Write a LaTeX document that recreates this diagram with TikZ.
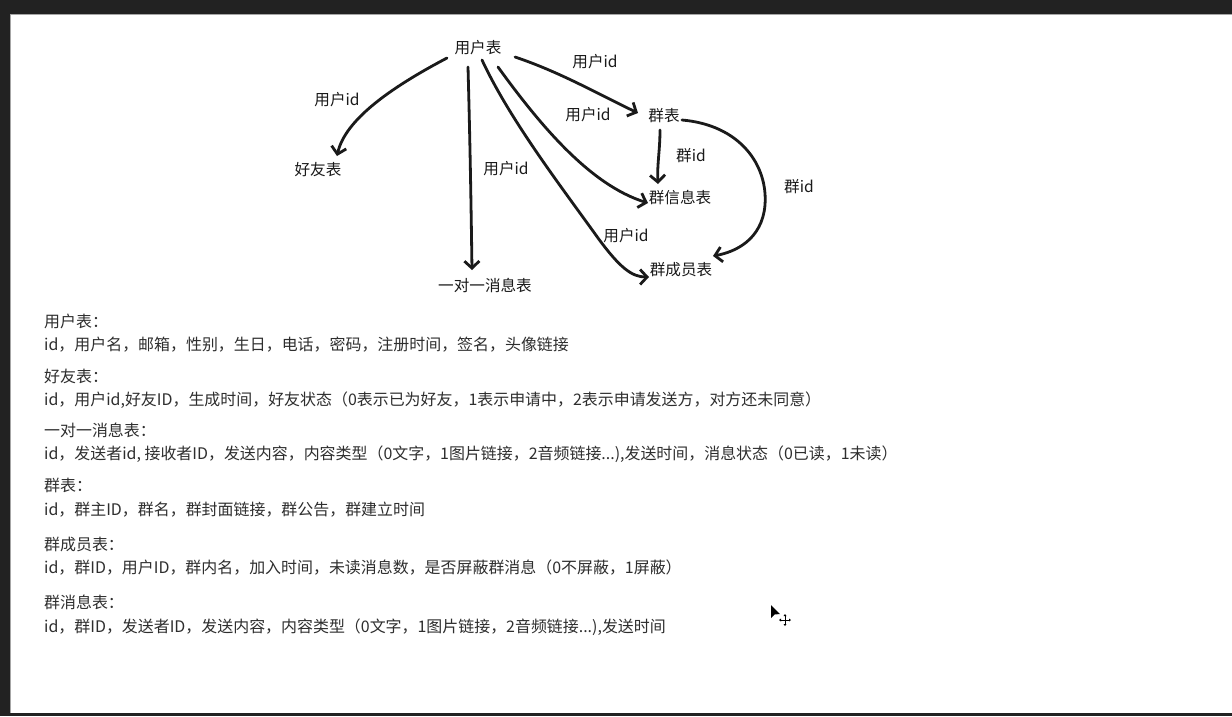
\documentclass[tikz,border=0pt]{standalone}
\usepackage{fontspec}
\setmainfont{Noto Sans CJK SC}
\usetikzlibrary{arrows.meta}
\definecolor{frame}{HTML}{222222}
\definecolor{ink}{HTML}{1A1A1A}
\definecolor{bodyink}{HTML}{2E2E2E}
\begin{document}
\begin{tikzpicture}[x=1pt,y=-1pt,
  lbl/.style={font=\fontsize{15.6}{18}\selectfont, text=ink, inner sep=0pt},
  bodytxt/.style={font=\fontsize{15.95}{19}\selectfont, text=bodyink, inner sep=0pt, anchor=west},
  link/.style={line width=2.8pt, line cap=round, line join=round, draw=ink,
    -{Straight Barb[length=7pt,width=15pt]}}]
\useasboundingbox (0,0) rectangle (1232,716);
\fill[frame] (0,0) rectangle (1232,716);
\fill[white] (10,14) rectangle (1232,713);
\draw[gray!70, line width=1pt] (10,713) -- (10,14) -- (1232,14);

% table nodes
\node[lbl] (user) at (478,48) {用户表};
\node[lbl] (friend) at (318,170) {好友表};
\node[lbl] (p2p) at (485,285) {一对一消息表};
\node[lbl] (group) at (664,116) {群表};
\node[lbl] (ginfo) at (680,198) {群信息表};
\node[lbl] (gmem) at (681,270) {群成员表};

% connector end points
\coordinate (s1) at (447,58);  \coordinate (e1) at (337,156);
\coordinate (s2) at (468,67);  \coordinate (e2) at (472,270);
\coordinate (s3) at (482,60);  \coordinate (m3) at (598,238); \coordinate (e3) at (649,277);
\coordinate (s4) at (498,67);  \coordinate (e4) at (648,203);
\coordinate (s5) at (515,57);  \coordinate (e5) at (638,113);
\coordinate (s6) at (660,130); \coordinate (e6) at (658,184);
\coordinate (s7) at (682,120); \coordinate (m7) at (765,205); \coordinate (e7) at (713,256);

\draw[link] (s1) .. controls (390,88) and (345,120) .. (e1);
\draw[link] (s2) .. controls (470,140) and (471,200) .. (e2);
\draw[link] (s3) .. controls (510,120) and (560,185) .. (m3) .. controls (620,268) and (632,277) .. (e3);
\draw[link] (s4) .. controls (540,125) and (590,185) .. (e4);
\draw[link] (s5) .. controls (560,72) and (600,95) .. (e5);
\draw[link] (s6) .. controls (660,150) and (657,165) .. (e6);
\draw[link] (s7) .. controls (740,125) and (768,165) .. (m7) .. controls (762,240) and (735,252) .. (e7);

% connector labels
\node[lbl] (l1) at (337,100) {用户id};
\node[lbl] (l2) at (506,169) {用户id};
\node[lbl] (l3) at (626,236) {用户id};
\node[lbl] (l4) at (588,115) {用户id};
\node[lbl] (l5) at (595,62) {用户id};
\node[lbl] (l6) at (691,156) {群id};
\node[lbl] (l7) at (799,187) {群id};

% field lists
\node[bodytxt] (h1) at (44,321) {用户表：};
\node[bodytxt] (t1) at (44,345) {id，用户名，邮箱，性别，生日，电话，密码，注册时间，签名，头像链接};
\node[bodytxt] (h2) at (44,376) {好友表：};
\node[bodytxt] (t2) at (44,400) {id，用户id,好友ID，生成时间，好友状态（0表示已为好友，1表示申请中，2表示申请发送方，对方还未同意）};
\node[bodytxt] (h3) at (44,430) {一对一消息表：};
\node[bodytxt] (t3) at (44,454) {id，发送者id, 接收者ID，发送内容，内容类型（0文字，1图片链接，2音频链接...),发送时间，消息状态（0已读，1未读）};
\node[bodytxt] (h4) at (44,485) {群表：};
\node[bodytxt] (t4) at (44,510) {id，群主ID，群名，群封面链接，群公告，群建立时间};
\node[bodytxt] (h5) at (44,544) {群成员表：};
\node[bodytxt] (t5) at (44,568) {id，群ID，用户ID，群内名，加入时间，未读消息数，是否屏蔽群消息（0不屏蔽，1屏蔽）};
\node[bodytxt] (h6) at (44,602) {群消息表：};
\node[bodytxt] (t6) at (44,627) {id，群ID，发送者ID，发送内容，内容类型（0文字，1图片链接，2音频链接...),发送时间};

% mouse cursor
\fill[black] (771,605) -- (771,618) -- (774.5,614.5) -- (780,614) -- cycle;
\draw[black, line width=0.8pt] (780,620) -- (790,620) (785,615) -- (785,625);
\fill[black] (779,620) -- (781,618.5) -- (781,621.5) -- cycle
  (791,620) -- (789,618.5) -- (789,621.5) -- cycle
  (785,614) -- (783.5,616) -- (786.5,616) -- cycle
  (785,626) -- (783.5,624) -- (786.5,624) -- cycle;
\end{tikzpicture}
\end{document}
